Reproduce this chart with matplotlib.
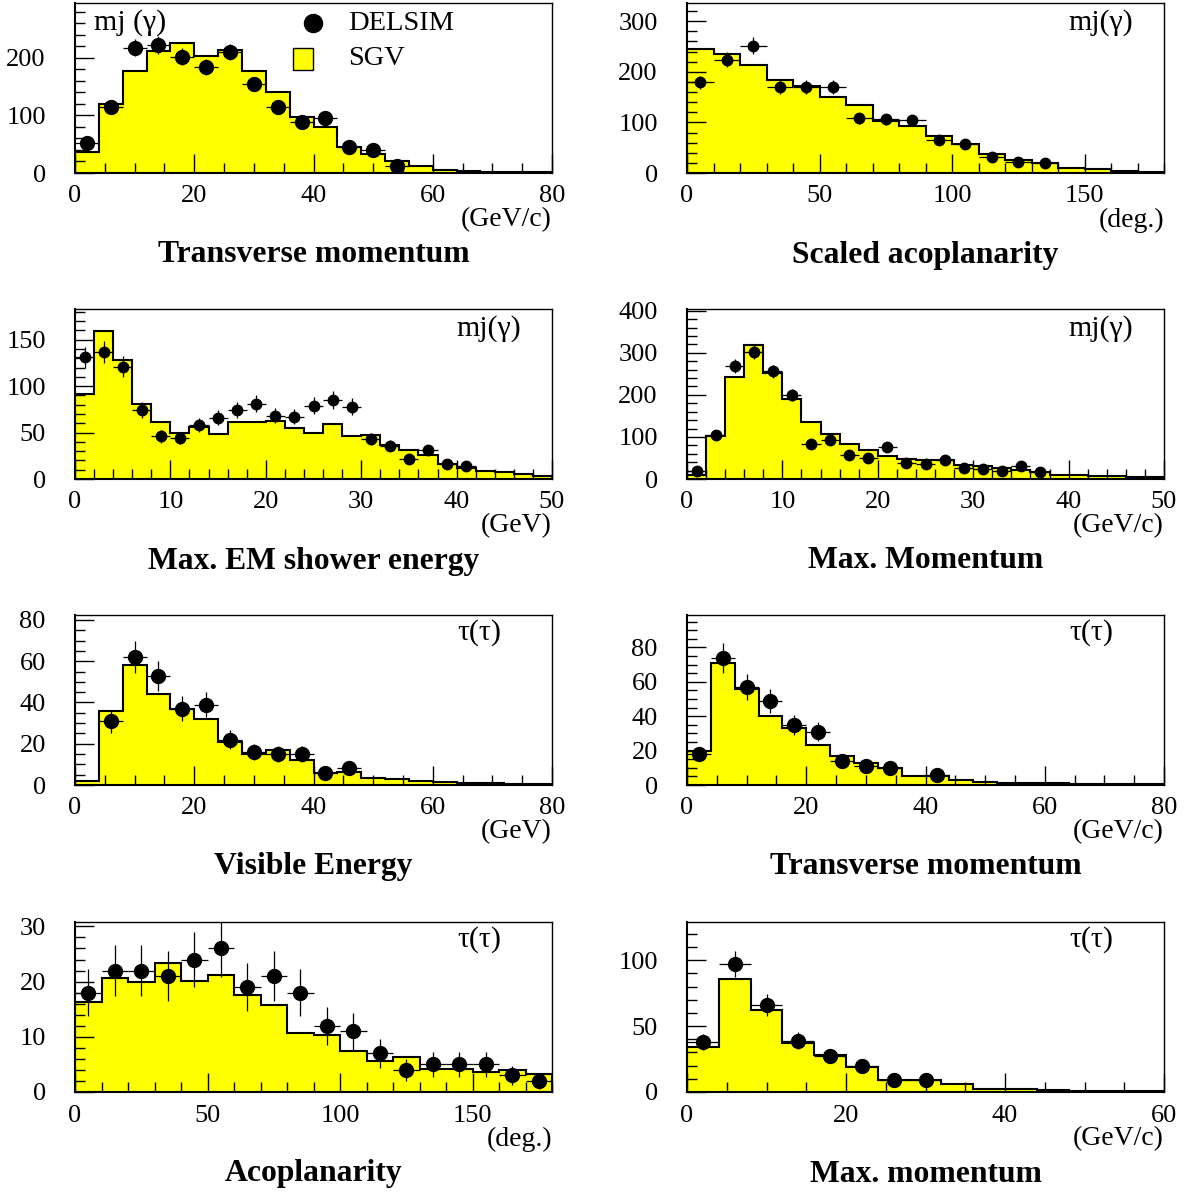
import numpy as np
import matplotlib
matplotlib.use("Agg")
import matplotlib.pyplot as plt
from matplotlib.ticker import MultipleLocator

plt.rcParams['font.family'] = ['Liberation Serif', 'DejaVu Serif']
plt.rcParams['mathtext.fontset'] = 'stix'

# ---- per-panel data (counts per bin) ----
# mj(gamma): transverse momentum, 4 GeV/c bins on 0-80
pt_mj_sgv = [37, 120, 177, 212, 226, 203, 213, 177, 140, 97, 79, 45, 33, 21, 13, 6, 3, 2, 1, 1]
pt_mj_delsim = [52, 114, 217, 222, 202, 184, 210, 155, 114, 88, 96, 45, 40, 12, 0, 0, 0, 0, 0, 0]

# mj(gamma): scaled acoplanarity, 10 deg bins on 0-180
acop_mj_sgv = [246, 235, 213, 184, 171, 151, 134, 103, 93, 73, 57, 37, 25, 19, 9, 8, 4, 2]
acop_mj_delsim = [179, 224, 252, 170, 170, 170, 108, 106, 105, 66, 57, 32, 22, 19, 0, 0, 0, 0]

# mj(gamma): max. EM shower energy, 2 GeV bins on 0-50
em_mj_sgv = [91, 159, 128, 81, 61, 50, 56, 48, 61, 61, 62, 55, 50, 59, 46, 47, 37, 31, 26, 16, 12, 9, 7, 5, 3]
em_mj_delsim = [131, 137, 121, 74, 46, 44, 58, 66, 74, 81, 68, 67, 79, 85, 78, 43, 36, 22, 31, 16, 14, 0, 0, 0, 0]

# mj(gamma): max. momentum, 2 GeV/c bins on 0-50
pmax_mj_sgv = [10, 103, 242, 318, 252, 190, 136, 106, 82, 70, 54, 48, 44, 44, 34, 30, 26, 22, 16, 10, 9, 8, 7, 5, 4]
pmax_mj_delsim = [19, 104, 268, 303, 256, 200, 82, 92, 58, 51, 75, 38, 35, 46, 26, 23, 18, 30, 16, 0, 0, 0, 0, 0, 0]

# tau(tau): visible energy, 4 GeV bins on 0-80
evis_tau_sgv = [2, 36, 58, 44, 37, 32, 21, 15, 17, 12, 6, 6.5, 3.5, 3, 2, 1.3, 0.8, 0.8, 0.6, 0.5]
evis_tau_delsim = [0, 31, 62, 53, 37, 39, 22, 16, 15, 15, 6, 8, 0, 0, 0, 0, 0, 0, 0, 0]

# tau(tau): transverse momentum, 4 GeV/c bins on 0-80
pt_tau_sgv = [20, 71, 56, 40, 33, 23, 17, 13, 10, 5, 5, 3, 2, 1.3, 1, 1, 0.6, 0.5, 0.5, 0.5]
pt_tau_delsim = [18, 74, 57, 49, 35, 31, 14, 11, 10, 0, 6, 0, 0, 0, 0, 0, 0, 0, 0, 0]

# tau(tau): acoplanarity, 10 deg bins on 0-180
acop_tau_sgv = [16.3, 20.6, 19.9, 23.4, 20.2, 21.2, 17.5, 15.8, 10.7, 10.4, 7.4, 5.6, 6.3, 4.1, 4.2, 3.7, 4.0, 3.3]
acop_tau_delsim = [18, 22, 22, 21, 24, 26, 19, 21, 18, 12, 11, 7, 4, 5, 5, 5, 3, 2]

# tau(tau): max. momentum, 4 GeV/c bins on 0-60
pmax_tau_sgv = [34, 86, 62, 37, 28, 19, 9.4, 8.9, 6.3, 2.5, 2, 1.8, 1, 1, 1]
pmax_tau_delsim = [38, 97, 66, 39, 27, 20, 9, 9, 0, 0, 0, 0, 0, 0, 0]

titles = ["Transverse momentum", "Scaled acoplanarity",
          "Max. EM shower energy", "Max. Momentum",
          "Visible Energy", "Transverse momentum",
          "Acoplanarity", "Max. momentum"]
units = ["(GeV/c)", "(deg.)", "(GeV)", "(GeV/c)", "(GeV)", "(GeV/c)", "(deg.)", "(GeV/c)"]
tags = ["mj (γ)", "mj(γ)", "mj(γ)", "mj(γ)", "τ(τ)", "τ(τ)", "τ(τ)", "τ(τ)"]

panels = [
    # sgv, delsim, xmax, bin width, ymax, x major, x minor, y major, y minor, marker size
    (pt_mj_sgv, pt_mj_delsim, 80, 4, 295, 20, 5, 100, 20, 10),
    (acop_mj_sgv, acop_mj_delsim, 180, 10, 336, 50, 10, 100, 20, 7.5),
    (em_mj_sgv, em_mj_delsim, 50, 2, 183, 10, 2, 50, 10, 7.5),
    (pmax_mj_sgv, pmax_mj_delsim, 50, 2, 404, 10, 2, 100, 20, 7.5),
    (evis_tau_sgv, evis_tau_delsim, 80, 4, 82.4, 20, 5, 20, 5, 10),
    (pt_tau_sgv, pt_tau_delsim, 80, 4, 98.9, 20, 5, 20, 5, 10),
    (acop_tau_sgv, acop_tau_delsim, 180, 10, 30.8, 50, 10, 10, 2, 10),
    (pmax_tau_sgv, pmax_tau_delsim, 60, 4, 129, 20, 5, 50, 10, 10),
]

W, H = 1196, 1192
fig = plt.figure(figsize=(W / 100, H / 100), dpi=100)

col_left = [75, 687]
row_bottom = [173, 479, 785, 1092]
ax_w, ax_h = 477, 170

for i, (sgv, delsim, xmax, bw, ymax, xmaj, xmin_, ymaj, ymin_, ms) in enumerate(panels):
    r, c = divmod(i, 2)
    ax = fig.add_axes([col_left[c] / W, 1 - row_bottom[r] / H, ax_w / W, ax_h / H])
    edges = np.arange(0, xmax + bw / 2, bw)
    sgv = np.asarray(sgv, float)
    ax.stairs(sgv, edges, fill=True, color='#ffff00', zorder=1)
    ax.stairs(sgv, edges, color='black', lw=1.5, zorder=2)

    d = np.asarray(delsim, float)
    centers = 0.5 * (edges[:-1] + edges[1:])
    m = d > 0
    ax.errorbar(centers[m], d[m], xerr=bw / 2, yerr=np.sqrt(d[m]), fmt='o',
                color='black', ms=ms, elinewidth=0.9, capsize=0, zorder=3)

    ax.set_xlim(0, xmax)
    ax.set_ylim(0, ymax)
    ax.xaxis.set_major_locator(MultipleLocator(xmaj))
    ax.xaxis.set_minor_locator(MultipleLocator(xmin_))
    ax.yaxis.set_major_locator(MultipleLocator(ymaj))
    ax.yaxis.set_minor_locator(MultipleLocator(ymin_))
    ax.tick_params(which='both', direction='in', top=False, right=False,
                   labelsize=19, width=1.0)
    ax.tick_params(axis='y', which='major', length=14, pad=21)
    ax.tick_params(axis='y', which='minor', length=7)
    ax.tick_params(axis='x', which='major', length=14, pad=9)
    ax.tick_params(axis='x', which='minor', length=7)
    for s in ax.spines.values():
        s.set_linewidth(1.0)
    ax.spines['bottom'].set_linewidth(1.5)
    ax.spines['left'].set_linewidth(1.5)

    ax.text(1.0, -47 / ax_h, units[i], transform=ax.transAxes,
            ha='right', va='center', fontsize=20)
    ax.text(0.5, -82 / ax_h, titles[i], transform=ax.transAxes,
            ha='center', va='center', fontsize=22.8, fontweight='bold')

    if i == 0:
        ax.text(0.040, 0.888, tags[i], transform=ax.transAxes,
                ha='left', va='center', fontsize=21.5)
        # legend
        ax.plot([0.499], [0.882], 'o', color='black', ms=13,
                transform=ax.transAxes, zorder=5)
        ax.add_patch(plt.Rectangle((0.457, 0.606), 0.042, 0.129,
                                   transform=ax.transAxes, facecolor='#ffff00',
                                   edgecolor='black', lw=1.0, zorder=5))
        ax.text(0.572, 0.882, "DELSIM", transform=ax.transAxes,
                ha='left', va='center', fontsize=20.5)
        ax.text(0.572, 0.676, "SGV", transform=ax.transAxes,
                ha='left', va='center', fontsize=20.5)
    elif tags[i].startswith('mj'):
        ax.text(0.936, 0.885, tags[i], transform=ax.transAxes,
                ha='right', va='center', fontsize=21.5)
    else:
        ax.text(0.894, 0.895, tags[i], transform=ax.transAxes,
                ha='right', va='center', fontsize=21.5)

fig.savefig("out.png", dpi=100)
